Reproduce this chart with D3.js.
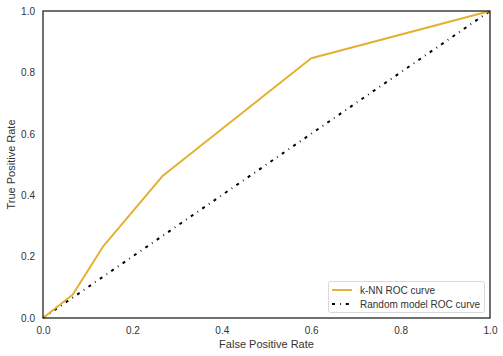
<!DOCTYPE html>
<html><head><meta charset="utf-8">
<script src="https://cdn.jsdelivr.net/npm/d3@7"></script>
<style>body{margin:0;background:#fff;}svg{display:block;font-family:"Liberation Sans",Arial,sans-serif;}</style>
</head><body>
<svg id="c" width="503" height="356"></svg>
<script>
const fpr = [0, 0.0667, 0.1333, 0.2667, 0.6, 1.0];
const tpr = [0, 0.0769, 0.2308, 0.4615, 0.8462, 1.0];
const randFpr = [0, 1];
const randTpr = [0, 1];
const ticks = [0.0, 0.2, 0.4, 0.6, 0.8, 1.0];
const seriesNames = ["k-NN ROC curve", "Random model ROC curve"];

const svg = d3.select("#c");
const L = 43, R = 490, T = 11, B = 318;
const x = d3.scaleLinear().domain([0, 1]).range([L, R]);
const y = d3.scaleLinear().domain([0, 1]).range([B, T]);

const xAxis = d3.axisBottom(x).tickValues(ticks).tickFormat(d3.format(".1f")).tickSize(0).tickPadding(9);
const gx = svg.append("g").attr("transform", `translate(0,${B})`).call(xAxis);
const yAxis = d3.axisLeft(y).tickValues(ticks).tickFormat(d3.format(".1f")).tickSize(0).tickPadding(8);
const gy = svg.append("g").attr("transform", `translate(${L},0)`).call(yAxis);
[gx, gy].forEach(g => {
  g.select(".domain").remove();
  g.selectAll("text").attr("font-size", 10).attr("fill", "#333").attr("font-family", "Liberation Sans, Arial, sans-serif");
});

const kData = fpr.map((f, i) => [f, tpr[i]]);
const rData = randFpr.map((f, i) => [f, randTpr[i]]);
const line = d3.line().x(d => x(d[0])).y(d => y(d[1]));
svg.append("path").datum(rData).attr("d", line).attr("fill", "none")
  .attr("stroke", "#000").attr("stroke-width", 2).attr("stroke-dasharray", "3 5 0.8 5");
svg.append("path").datum(kData).attr("d", line).attr("fill", "none")
  .attr("stroke", "#e3b02d").attr("stroke-width", 1.9).attr("stroke-linejoin", "round");

svg.append("rect").attr("x", L).attr("y", T).attr("width", R - L).attr("height", B - T)
  .attr("fill", "none").attr("stroke", "#1a1a1a").attr("stroke-width", 1.25);

svg.append("text").attr("x", (L + R) / 2).attr("y", 348).attr("text-anchor", "middle")
  .attr("font-size", 11).attr("fill", "#333").text("False Positive Rate");
svg.append("text").attr("transform", `translate(15,${(T + B) / 2}) rotate(-90)`).attr("text-anchor", "middle")
  .attr("font-size", 11).attr("fill", "#333").text("True Positive Rate");

const lg = svg.append("g");
lg.append("rect").attr("x", 328.5).attr("y", 281.5).attr("width", 156).attr("height", 31).attr("rx", 2)
  .attr("fill", "#fff").attr("fill-opacity", 0.85).attr("stroke", "#d9d9d9").attr("stroke-width", 1);
const ly = [290, 304];
lg.append("line").attr("x1", 332).attr("x2", 352).attr("y1", ly[0]).attr("y2", ly[0])
  .attr("stroke", "#e3b02d").attr("stroke-width", 1.9);
lg.append("line").attr("x1", 332).attr("x2", 352).attr("y1", ly[1]).attr("y2", ly[1])
  .attr("stroke", "#000").attr("stroke-width", 2).attr("stroke-dasharray", "3 5 0.8 5");
seriesNames.forEach((n, i) => {
  lg.append("text").attr("x", 360).attr("y", ly[i] + 3.5).attr("font-size", 10).attr("fill", "#333").text(n);
});
</script>
</body></html>
